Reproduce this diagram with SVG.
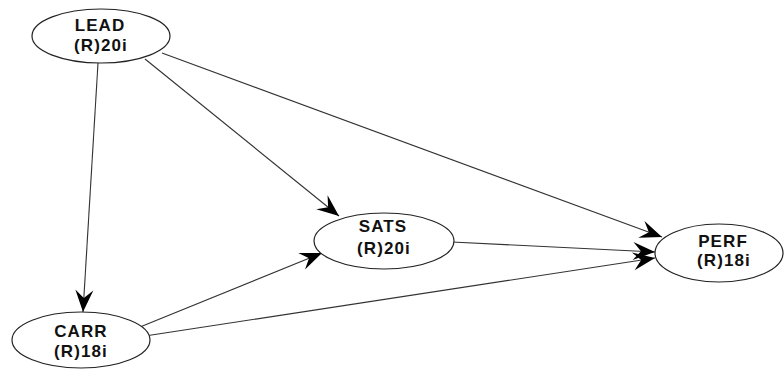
<svg xmlns="http://www.w3.org/2000/svg" width="784" height="369" viewBox="0 0 784 369">
<style>
.n ellipse{fill:#fff;stroke:#222;stroke-width:1.2}
.n text{font-family:"Liberation Sans",Arial,sans-serif;font-weight:bold;font-size:17px;fill:#111;text-anchor:middle;letter-spacing:1.1px}
.c line{stroke:#333;stroke-width:1.1;marker-end:url(#ah)}
</style>
<defs>
<marker id="ah" markerUnits="userSpaceOnUse" viewBox="-23 -10 25 20" refX="0" refY="0" markerWidth="25" markerHeight="20" orient="auto">
<path d="M0,0 L-22,-9 L-14,0 L-22,9 Z" fill="#000"/>
</marker>
</defs>
<rect width="784" height="369" fill="#fff"/>
<g id="connectors" class="c">
<line x1="98" y1="63" x2="83" y2="312"/>
<line x1="145" y1="59" x2="339" y2="216"/>
<line x1="162" y1="53" x2="662" y2="237"/>
<line x1="452" y1="242" x2="655" y2="252"/>
<line x1="140" y1="327" x2="322" y2="253"/>
<line x1="145" y1="336" x2="655" y2="258"/>
</g>
<g id="LEAD" class="n">
<ellipse cx="101" cy="36" rx="69" ry="27"/>
<text x="100" y="31">LEAD</text>
<text x="101" y="51">(R)20i</text>
</g>
<g id="SATS" class="n">
<ellipse cx="384" cy="241" rx="70" ry="28"/>
<text x="383" y="232">SATS</text>
<text x="384" y="254">(R)20i</text>
</g>
<g id="PERF" class="n">
<ellipse cx="719" cy="253" rx="64" ry="29"/>
<text x="723" y="247">PERF</text>
<text x="724" y="266">(R)18i</text>
</g>
<g id="CARR" class="n">
<ellipse cx="81" cy="340" rx="69" ry="28"/>
<text x="81" y="337">CARR</text>
<text x="81" y="357">(R)18i</text>
</g>
</svg>
